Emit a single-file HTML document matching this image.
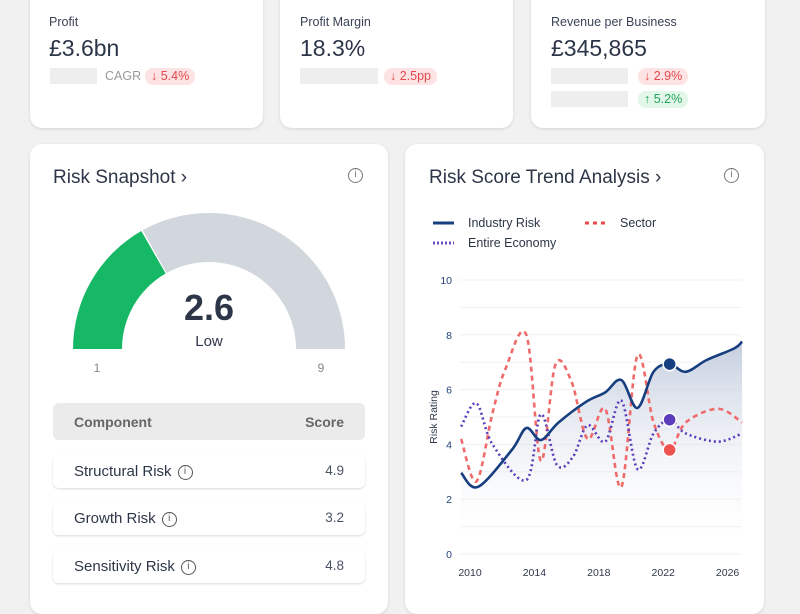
<!DOCTYPE html>
<html><head><meta charset="utf-8"><style>
*{box-sizing:border-box;margin:0;padding:0}
body{width:800px;height:600px;overflow:hidden;background:#f1f1f1;font-family:"Liberation Sans",sans-serif;color:#2d3648;position:relative}
.card{position:absolute;background:#fff;border-radius:12px;box-shadow:0 1px 3px rgba(0,0,0,.12)}
.lbl{position:absolute;font-size:12.5px;color:#3a4356}
.val{position:absolute;font-size:23px;color:#2d3648}
.ph{position:absolute;background:#eeeeee;height:16px}
.pill{position:absolute;height:17px;border-radius:8px;font-size:12.5px;line-height:17px;padding:0 6px}
.red{background:#fde3e3;color:#e5484d}
.grn{background:#e2f6ea;color:#22a55a}
.row{position:absolute;left:53px;width:312px;height:33px;background:#fff;border-radius:6px;box-shadow:0 1px 2px rgba(0,0,0,.15);font-size:15px;color:#2d3648}
.row span.n{position:absolute;left:21px;top:8px}
.row span.s{position:absolute;right:21px;top:8px;font-size:13.5px;color:#4a5266}
.ic{display:inline-block;width:15px;height:15px;border:1.5px solid #555;border-radius:50%;font-size:10px;line-height:12px;text-align:center;vertical-align:middle;margin-left:6px;color:#555}
</style></head><body>
<div class="card" style="left:30px;top:-12px;width:233px;height:140px">
 <div class="lbl" style="left:19px;top:27px">Profit</div>
 <div class="val" style="left:19px;top:47px">£3.6bn</div>
 <div class="ph" style="left:20px;top:80px;width:47px"></div>
 <div class="lbl" style="left:75px;top:81px;color:#999">CAGR</div>
 <div class="pill red" style="left:115px;top:80px">↓ 5.4%</div>
</div>
<div class="card" style="left:280px;top:-12px;width:233px;height:140px">
 <div class="lbl" style="left:20px;top:27px">Profit Margin</div>
 <div class="val" style="left:20px;top:47px">18.3%</div>
 <div class="ph" style="left:20px;top:80px;width:78px"></div>
 <div class="pill red" style="left:104px;top:80px">↓ 2.5pp</div>
</div>
<div class="card" style="left:531px;top:-12px;width:234px;height:140px">
 <div class="lbl" style="left:20px;top:27px">Revenue per Business</div>
 <div class="val" style="left:20px;top:47px">£345,865</div>
 <div class="ph" style="left:20px;top:80px;width:77px"></div>
 <div class="ph" style="left:20px;top:103px;width:77px"></div>
 <div class="pill red" style="left:107px;top:80px">↓ 2.9%</div>
 <div class="pill grn" style="left:107px;top:103px">↑ 5.2%</div>
</div>

<div class="card" style="left:30px;top:144px;width:358px;height:470px">
 <div style="position:absolute;left:23px;top:23px;font-size:19px;color:#2d3648">Risk Snapshot ›</div>
 <div class="ic" style="position:absolute;left:318px;top:24px;margin:0;border-color:#777;color:#777">i</div>
</div>
<svg style="position:absolute;left:0;top:0" width="400" height="400">
 <g id="gauge"></g>
 <text x="209" y="320" text-anchor="middle" font-size="36" font-weight="bold" fill="#2d3648">2.6</text>
 <text x="209" y="346" text-anchor="middle" font-size="15" fill="#2d3648">Low</text>
 <text x="97" y="372" text-anchor="middle" font-size="12" fill="#888">1</text>
 <text x="321" y="372" text-anchor="middle" font-size="12" fill="#888">9</text>
</svg>
<div style="position:absolute;left:53px;top:403px;width:312px;height:37px;background:#ebebeb;border-radius:6px;font-size:14px;color:#666;font-weight:bold">
 <span style="position:absolute;left:21px;top:11px">Component</span><span style="position:absolute;right:21px;top:11px">Score</span>
</div>
<div class="row" style="top:455px"><span class="n">Structural Risk<span class="ic">i</span></span><span class="s">4.9</span></div>
<div class="row" style="top:502px"><span class="n">Growth Risk<span class="ic">i</span></span><span class="s">3.2</span></div>
<div class="row" style="top:550px"><span class="n">Sensitivity Risk<span class="ic">i</span></span><span class="s">4.8</span></div>

<div class="card" style="left:405px;top:144px;width:359px;height:470px">
 <div style="position:absolute;left:24px;top:23px;font-size:19px;color:#2d3648">Risk Score Trend Analysis ›</div>
 <div class="ic" style="position:absolute;left:319px;top:24px;margin:0;border-color:#777;color:#777">i</div>
</div>
<svg id="chart" style="position:absolute;left:0;top:0" width="800" height="600">
 <defs><linearGradient id="fg" x1="0" y1="0" x2="0" y2="1"><stop offset="0" stop-color="#c5cedf"/><stop offset="1" stop-color="#ffffff" stop-opacity="0"/></linearGradient></defs>
 <g font-size="12.5" fill="#2d3648">
  <line x1="433" y1="223" x2="454" y2="223" stroke="#173f7f" stroke-width="3"/><text x="468" y="227">Industry Risk</text>
  <line x1="585" y1="223" x2="606" y2="223" stroke="#ee4b4b" stroke-width="3" stroke-dasharray="4,4"/><text x="620" y="227">Sector</text>
  <line x1="433" y1="243" x2="454" y2="243" stroke="#6a4cc0" stroke-width="3" stroke-dasharray="2,2"/><text x="468" y="247">Entire Economy</text>
 </g>
 <g id="grid"></g><g id="series"></g>
 <text transform="translate(437,417) rotate(-90)" text-anchor="middle" font-size="10.5" fill="#2d3648">Risk Rating</text>
</svg>
<script>
const gaugeValue=[2.6];
const gaugeShare=[0.336];
const yTicks=[0,2,4,6,8,10];
const xTicks=[2010,2014,2018,2022,2026];
const indYears=[2009.45,2010.5,2012.6,2013.5,2014.4,2015.5,2017.2,2018.4,2019.4,2020.4,2021.4,2022.4,2023.4,2024.7,2026.4,2026.9];
const indVals=[2.96,2.45,3.8,4.6,4.16,4.8,5.55,5.9,6.35,5.33,6.65,6.93,6.65,7.08,7.5,7.75];
const secYears=[2009.45,2010.4,2011.4,2012.2,2013.5,2014.4,2015.3,2016.3,2017.3,2018.4,2019.4,2020.4,2021.4,2022.4,2023.4,2025.4,2026.9];
const secVals=[4.2,2.65,5.15,6.75,8.0,3.4,6.9,6.3,4.2,5.3,2.45,7.25,4.8,3.8,4.8,5.3,4.8];
const ecoYears=[2009.45,2010.4,2011.4,2013.5,2014.4,2015.4,2016.4,2017.3,2018.4,2019.4,2020.4,2021.4,2022.4,2023.4,2025.4,2026.9];
const ecoVals=[4.65,5.5,4.0,2.7,5.1,3.25,3.55,4.7,4.1,5.6,3.1,4.4,4.9,4.4,4.1,4.4];
const markerYear=[2022.4];
const NS='http://www.w3.org/2000/svg';
function X(y){return 470+(y-2010)*16.1;}
function Y(v){return 554-v*27.4;}
function mk(tag,attrs,parent){const e=document.createElementNS(NS,tag);for(const k in attrs)e.setAttribute(k,attrs[k]);parent.appendChild(e);return e;}
(function(){
 const g=document.getElementById('gauge');const cx=209,cy=349,R=136,r=87;
 function arc(a0,a1){const p=(a,rad)=>[cx+rad*Math.cos(a),cy-rad*Math.sin(a)];
  const [x0,y0]=p(a0,R),[x1,y1]=p(a1,R),[x2,y2]=p(a1,r),[x3,y3]=p(a0,r);
  return `M${x0},${y0} A${R},${R} 0 0 1 ${x1},${y1} L${x2},${y2} A${r},${r} 0 0 0 ${x3},${y3}Z`;}
 const split=Math.PI*(1-gaugeShare[0]);
 const gr=mk('path',{d:arc(Math.PI,split+0.006),fill:'#16b866'},g);
 
 
 const gy=mk('path',{d:arc(split-0.006,0),fill:'#d1d7dc'},g);
 
 
})();
const grid=document.getElementById('grid');
for(let v=0;v<=10;v++){mk('line',{x1:460,x2:741,y1:Y(v),y2:Y(v),stroke:'#eef0f3','stroke-width':1},grid);}
yTicks.forEach(t=>{const e=mk('text',{x:452,y:Y(t)+4,'text-anchor':'end','font-size':10.5,fill:'#23407a'},grid);e.textContent=t;
 
 });
xTicks.forEach(t=>{const e=mk('text',{x:X(t),y:576,'text-anchor':'middle','font-size':10.5,fill:'#2d3648'},grid);e.textContent=t;
 
 });
function path(xs,vs){const p=xs.map((x,i)=>[X(x),Y(vs[i])]);let d=`M${p[0][0]},${p[0][1]}`;
 for(let i=0;i<p.length-1;i++){const p0=p[i-1]||p[i],p1=p[i],p2=p[i+1],p3=p[i+2]||p2;
  d+=` C${p1[0]+(p2[0]-p0[0])/6},${p1[1]+(p2[1]-p0[1])/6} ${p2[0]-(p3[0]-p1[0])/6},${p2[1]-(p3[1]-p1[1])/6} ${p2[0]},${p2[1]}`;}
 return d;}
function interp(xs,vs,x){for(let i=0;i<xs.length-1;i++)if(x>=xs[i]&&x<=xs[i+1])return vs[i]+(vs[i+1]-vs[i])*(x-xs[i])/(xs[i+1]-xs[i]);return vs[vs.length-1];}
const s=document.getElementById('series');
const dInd=path(indYears,indVals);
const area=mk('path',{d:dInd+` L${X(indYears[indYears.length-1])},${Y(0)} L${X(indYears[0])},${Y(0)}Z`,fill:'url(#fg)'},s);


const ls=mk('path',{d:path(secYears,secVals),fill:'none',stroke:'#ef6b6b','stroke-width':2.6,'stroke-dasharray':'5,4'},s);


const le=mk('path',{d:path(ecoYears,ecoVals),fill:'none',stroke:'#5b3dbb','stroke-width':2.6,'stroke-dasharray':'2,3'},s);


const li=mk('path',{d:dInd,fill:'none',stroke:'#173f7f','stroke-width':2.6},s);


[[indYears,indVals,'#173f7f','industry-marker'],[ecoYears,ecoVals,'#5b3dbb','economy-marker'],[secYears,secVals,'#ef5350','sector-marker']].forEach(([xs,vs,c,n])=>{
 const m=mk('circle',{cx:X(markerYear[0]),cy:Y(interp(xs,vs,markerYear[0])),r:6.5,fill:c,stroke:'#fff','stroke-width':1.5},s);
 
 });
</script>
</body></html>
